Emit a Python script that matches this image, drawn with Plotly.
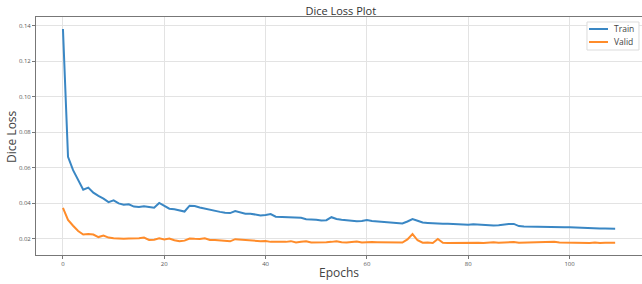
import plotly.graph_objects as go

epochs = list(range(110))

train_loss = [
    0.1380, 0.0660, 0.0585, 0.0530, 0.0475, 0.0487, 0.0458, 0.0440, 0.0425, 0.0405,
    0.0415, 0.0398, 0.0390, 0.0393, 0.0380, 0.0377, 0.0382, 0.0378, 0.0373, 0.0400,
    0.0385, 0.0368, 0.0365, 0.0360, 0.0352, 0.0385, 0.0383, 0.0375, 0.0368, 0.0362,
    0.0356, 0.0350, 0.0345, 0.0343, 0.0355, 0.0348, 0.0340, 0.0340, 0.0335, 0.0330,
    0.0333, 0.0338, 0.0323, 0.0322, 0.0323, 0.0319, 0.0320, 0.0317, 0.0309, 0.0308,
    0.0306, 0.0301, 0.0303, 0.0320, 0.0310, 0.0306, 0.0302, 0.0299, 0.0297, 0.0298,
    0.0304, 0.0299, 0.0296, 0.0293, 0.0291, 0.0289, 0.0287, 0.0285, 0.0296, 0.0309,
    0.0300, 0.0290, 0.0288, 0.0285, 0.0285, 0.0283, 0.0283, 0.0281, 0.0280, 0.0278,
    0.0278, 0.0280, 0.0278, 0.0276, 0.0275, 0.0273, 0.0275, 0.0279, 0.0281, 0.0282,
    0.0270, 0.0268, 0.0267, 0.0267, 0.0265, 0.0264, 0.0265, 0.0264, 0.0263, 0.0263,
    0.0264, 0.0262, 0.0261, 0.0259, 0.0257, 0.0256, 0.0256, 0.0256, 0.0256, 0.0255,
]

valid_loss = [
    0.0372, 0.0305, 0.0272, 0.0242, 0.0222, 0.0225, 0.0222, 0.0208, 0.0217, 0.0205,
    0.0201, 0.0199, 0.0199, 0.0200, 0.0199, 0.0202, 0.0205, 0.0192, 0.0193, 0.0201,
    0.0195, 0.0200, 0.0190, 0.0184, 0.0188, 0.0200, 0.0198, 0.0197, 0.0201, 0.0192,
    0.0191, 0.0188, 0.0186, 0.0184, 0.0196, 0.0193, 0.0190, 0.0187, 0.0184, 0.0185,
    0.0186, 0.0181, 0.0182, 0.0180, 0.0181, 0.0185, 0.0177, 0.0182, 0.0185, 0.0178,
    0.0177, 0.0180, 0.0179, 0.0181, 0.0185, 0.0179, 0.0177, 0.0180, 0.0183, 0.0178,
    0.0180, 0.0180, 0.0179, 0.0179, 0.0178, 0.0177, 0.0177, 0.0177, 0.0195, 0.0225,
    0.0190, 0.0176, 0.0177, 0.0175, 0.0197, 0.0176, 0.0174, 0.0175, 0.0175, 0.0174,
    0.0174, 0.0175, 0.0176, 0.0175, 0.0177, 0.0179, 0.0176, 0.0178, 0.0177, 0.0180,
    0.0176, 0.0177, 0.0178, 0.0175, 0.0179, 0.0178, 0.0178, 0.0181, 0.0178, 0.0177,
    0.0178, 0.0177, 0.0178, 0.0176, 0.0175, 0.0178, 0.0174, 0.0176, 0.0175, 0.0176,
]

series_names = ["Train", "Valid"]
series_colors = ["#3a87c4", "#ff8c2a"]

x_ticks = [0, 20, 40, 60, 80, 100]
y_ticks = [0.02, 0.04, 0.06, 0.08, 0.10, 0.12, 0.14]
y_tick_labels = ["0.02", "0.04", "0.06", "0.08", "0.10", "0.12", "0.14"]

FONT = "Open Sans"

fig = go.Figure()
for name, vals, col in zip(series_names, [train_loss, valid_loss], series_colors):
    fig.add_trace(go.Scatter(x=epochs, y=vals, mode="lines", name=name,
                             line=dict(color=col, width=2)))

# compact matplotlib-style legend box (paper coordinates)
legend_shapes = [dict(type="rect", xref="paper", yref="paper",
                      x0=0.9092, x1=0.995, y0=0.8613, y1=0.979,
                      fillcolor="white", line=dict(color="#dcdcdc", width=1),
                      layer="above")]
legend_annots = []
for i, (name, col) in enumerate(zip(series_names, series_colors)):
    yy = 0.9496 - i * 0.0546
    legend_shapes.append(dict(type="line", xref="paper", yref="paper",
                              x0=0.9125, x1=0.9439, y0=yy, y1=yy,
                              line=dict(color=col, width=2), layer="above"))
    legend_annots.append(dict(text=name, xref="paper", yref="paper",
                              x=0.951, y=yy, xanchor="left", yanchor="middle",
                              showarrow=False,
                              font=dict(size=8.5, color="#444", family=FONT)))

# y-axis title placed like matplotlib's
legend_annots.append(dict(text="Dice Loss", xref="paper", yref="paper",
                          x=-0.0413, y=0.5, xanchor="center", yanchor="middle",
                          textangle=-90, showarrow=False,
                          font=dict(size=12, color="#444", family=FONT)))

fig.update_layout(
    width=642, height=284,
    margin=dict(l=36, r=0, t=17, b=29),
    paper_bgcolor="white", plot_bgcolor="white",
    font=dict(family=FONT, color="#333"),
    title=dict(text="Dice Loss Plot", xref="paper", x=0.503, xanchor="center",
               yref="container", y=0.962, yanchor="middle",
               font=dict(size=11, color="#333", family=FONT)),
    showlegend=False,
    shapes=legend_shapes,
    annotations=legend_annots,
)

fig.update_xaxes(
    range=[-5.32, 114.3],
    tickvals=x_ticks, ticktext=[str(v) for v in x_ticks],
    tickfont=dict(size=6, color="#555"),
    ticks="outside", ticklen=3, tickcolor="#777",
    showgrid=True, gridcolor="#e3e3e3", gridwidth=1,
    showline=True, linecolor="#777", linewidth=1, mirror=True,
    zeroline=False,
    title=dict(text="Epochs", font=dict(size=12, color="#444", family=FONT), standoff=1),
)
fig.update_yaxes(
    range=[0.0107, 0.1448],
    tickvals=y_ticks, ticktext=y_tick_labels,
    tickfont=dict(size=6, color="#555"),
    ticks="outside", ticklen=3, tickcolor="#777",
    showgrid=True, gridcolor="#e3e3e3", gridwidth=1,
    showline=True, linecolor="#777", linewidth=1, mirror=False,
    zeroline=False,
)

fig.write_html("out.html", config={"displayModeBar": False},
               post_script="document.body.style.margin='0px';")
